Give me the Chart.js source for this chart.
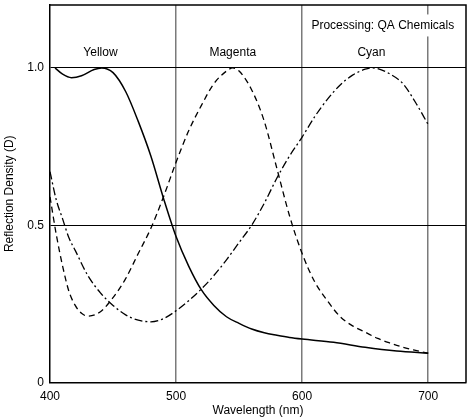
<!DOCTYPE html>
<html><head><meta charset="utf-8">
<script src="https://cdn.jsdelivr.net/npm/chart.js@4"></script>
<style>html,body{margin:0;padding:0;background:#fff}</style>
</head><body>
<canvas id="c" width="468" height="420"></canvas>
<script>
// Wavelength (nm) and reflection density (D)
const yellowNm  = [404, 410, 417, 425, 435, 441, 450, 460, 470, 480, 490, 500, 510, 520, 530, 540, 550, 560, 570, 580, 590, 600, 625, 650, 675, 700];
const yellowD   = [1.0, 0.98, 0.969, 0.975, 0.995, 1.0, 0.985, 0.925, 0.83, 0.72, 0.586, 0.464, 0.37, 0.295, 0.245, 0.209, 0.188, 0.17, 0.158, 0.15, 0.143, 0.138, 0.128, 0.112, 0.1, 0.093];
const magentaNm = [400, 405, 410, 415, 420, 425, 430, 440, 450, 460, 470, 480, 490, 500, 510, 520, 530, 540, 545, 550, 560, 570, 580, 590, 600, 610, 620, 630, 640, 650, 660, 670, 680, 690, 700];
const magentaD  = [0.59, 0.47, 0.37, 0.29, 0.245, 0.22, 0.211, 0.225, 0.27, 0.33, 0.41, 0.49, 0.59, 0.70, 0.80, 0.88, 0.95, 0.99, 1.0, 0.99, 0.93, 0.83, 0.68, 0.53, 0.41, 0.32, 0.26, 0.21, 0.18, 0.16, 0.14, 0.125, 0.112, 0.102, 0.093];
const cyanNm    = [400, 405, 410, 415, 420, 430, 440, 450, 460, 470, 480, 490, 500, 510, 520, 530, 540, 550, 560, 570, 580, 590, 600, 610, 620, 630, 640, 650, 655, 660, 670, 680, 690, 700];
const cyanD     = [0.67, 0.58, 0.52, 0.46, 0.42, 0.34, 0.285, 0.245, 0.215, 0.198, 0.193, 0.203, 0.228, 0.26, 0.297, 0.34, 0.39, 0.445, 0.5, 0.57, 0.65, 0.72, 0.78, 0.845, 0.9, 0.945, 0.977, 0.996, 1.0, 0.998, 0.98, 0.95, 0.89, 0.82];

const xTicks = [400, 500, 600, 700];
const yTicks = [0, 0.5, 1.0];
const yTickLabels = ['0', '0.5', '1.0'];
const seriesNames = ['Yellow', 'Magenta', 'Cyan'];
const seriesLabelNm = [440, 545, 655];
const noteText = 'Processing: QA Chemicals';
const xTitle = 'Wavelength (nm)';
const yTitle = 'Reflection Density (D)';

const FONT = '"Liberation Sans", Arial, sans-serif';
const FS = 12;
const pts = (xs, ys) => xs.map((x, i) => ({x, y: ys[i]}));

const annot = {
  id: 'annot',
  afterDatasetsDraw(chart) {
    const {ctx, chartArea: a, scales: {x, y}} = chart;
    ctx.save();
    // top and right frame
    ctx.strokeStyle = '#000'; ctx.lineWidth = 1.5;
    ctx.beginPath();
    ctx.moveTo(a.left, a.top); ctx.lineTo(a.right, a.top); ctx.lineTo(a.right, a.bottom);
    ctx.stroke();
    ctx.font = FS + 'px ' + FONT;
    ctx.fillStyle = '#000';
    ctx.textAlign = 'center'; ctx.textBaseline = 'middle';
    const ly = y.getPixelForValue(1.048);
    seriesNames.forEach((n, i) => ctx.fillText(n, x.getPixelForValue(seriesLabelNm[i]), ly));
    // note with white background
    const nx = x.getPixelForValue(664), ny = y.getPixelForValue(1.135);
    const w = ctx.measureText(noteText).width;
    ctx.fillStyle = '#fff';
    ctx.fillRect(nx - w / 2 - 3, ny - 11, w + 6, 22);
    ctx.fillStyle = '#000';
    ctx.fillText(noteText, nx, ny);
    ctx.restore();
  }
};

new Chart(document.getElementById('c'), {
  type: 'line',
  data: {
    datasets: [
      {label: 'Yellow', data: pts(yellowNm, yellowD), borderColor: '#000', borderWidth: 1.5, pointRadius: 0, cubicInterpolationMode: 'monotone'},
      {label: 'Magenta', data: pts(magentaNm, magentaD), borderColor: '#000', borderWidth: 1.3, borderDash: [6, 4], pointRadius: 0, cubicInterpolationMode: 'monotone'},
      {label: 'Cyan', data: pts(cyanNm, cyanD), borderColor: '#000', borderWidth: 1.3, borderDash: [8, 3, 2, 3], pointRadius: 0, cubicInterpolationMode: 'monotone'}
    ]
  },
  options: {
    responsive: false,
    animation: false,
    layout: {padding: {top: 5, right: 2, left: 0, bottom: 0}},
    plugins: {legend: {display: false}, tooltip: {enabled: false}},
    scales: {
      x: {
        type: 'linear', min: 400, max: 730,
        afterBuildTicks: s => { s.ticks = xTicks.map(v => ({value: v})); },
        afterFit: s => { s.height = 37.5; s.paddingLeft = 0; s.paddingRight = 0; },
        ticks: {font: {family: FONT, size: FS}, color: '#000', padding: 7, maxRotation: 0},
        grid: {drawTicks: false, color: c => (c.tick && c.tick.value === 400) ? 'rgba(0,0,0,0)' : '#7a7a7a', lineWidth: 1.5},
        border: {display: true, color: '#000', width: 1.5},
        title: {display: true, text: xTitle, font: {family: FONT, size: FS}, color: '#000', padding: {top: 0, bottom: 2}}
      },
      y: {
        type: 'linear', min: 0, max: 1.2,
        afterBuildTicks: s => { s.ticks = yTicks.map(v => ({value: v})); },
        afterFit: s => { s.width = 50; s.paddingTop = 0; s.paddingBottom = 0; },
        ticks: {font: {family: FONT, size: FS}, color: '#000', padding: 6, callback: (v) => yTickLabels[yTicks.indexOf(v)]},
        grid: {drawTicks: false, color: c => (c.tick && c.tick.value === 0) ? 'rgba(0,0,0,0)' : '#000', lineWidth: 1},
        border: {display: true, color: '#000', width: 1.5},
        title: {display: true, text: yTitle, font: {family: FONT, size: FS}, color: '#000', padding: {top: 2, bottom: 0}}
      }
    }
  },
  plugins: [annot]
});
</script>
</body></html>
